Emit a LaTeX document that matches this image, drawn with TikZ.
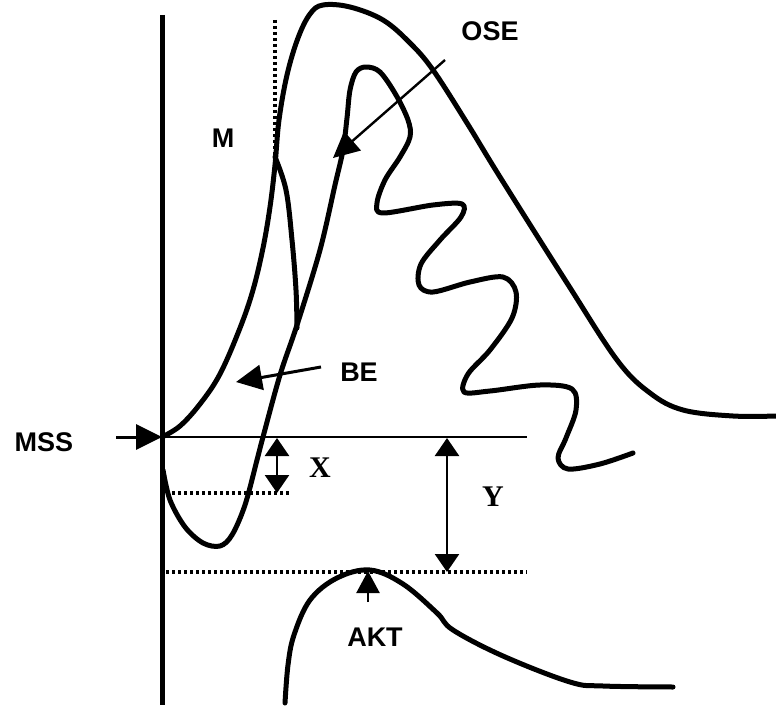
\documentclass[tikz,border=0pt]{standalone}
\usepackage{fontspec}
\setmainfont{Liberation Serif}
\setsansfont{Liberation Sans}
\usetikzlibrary{arrows.meta,positioning}

\begin{document}
\begin{tikzpicture}[x=1pt,y=-1pt,
  heavy/.style={line width=5pt,line join=round,line cap=round},
  thin/.style={line width=2.4pt},
  dots/.style={line width=3.2pt,dash pattern=on 3pt off 3pt},
  bigtip/.style={-{Triangle[length=26pt,width=25pt]}},
  dimtip/.style={{Triangle[length=18pt,width=24pt]}-{Triangle[length=18pt,width=24pt]}},
  tag/.style={font=\sffamily\bfseries\fontsize{27}{30}\selectfont,inner sep=0pt},
  dimtag/.style={font=\rmfamily\bfseries\fontsize{30}{32}\selectfont,inner sep=0pt}]
\useasboundingbox (0,0) rectangle (776,711);
% axes and reference lines
\coordinate (top) at (162,15); \coordinate (bot) at (162,705); \coordinate (org) at (162,437);
\draw[heavy,line cap=butt] (top) -- (bot);
\coordinate (base) at (527,437); \draw[thin] (org) -- (base);
\coordinate (mtop) at (275,20); \coordinate (cusp) at (275,157); \draw[dots] (mtop) -- (cusp);
\draw[dots] (172,493) coordinate (xl) -- (290,493) coordinate (xr);
\draw[dots] (166,572) coordinate (yl) -- (527,572) coordinate (yr);
% curves
\draw[heavy] plot[smooth,tension=0.6] coordinates {(162,437) (180,426) (200,404) (220,374) (240,328) (253,290) (263,248) (270,207) (275,165) (279,120) (287,75) (298,38) (310,14) (323,5) (350,7) (383,20) (410,43) (433,70) (467,123) (500,177) (567,283) (617,360) (650,393) (683,410) (733,416) (776,416)};
\coordinate (join) at (297,328); \draw[heavy] plot[smooth,tension=0.6] coordinates {(cusp) (286,190) (292,240) (296,290) (join)};
\draw[heavy] plot[smooth,tension=0.55] coordinates {(163,470) (170,500) (185,527) (203,543) (220,546) (232,535) (245,505) (257,460) (263,437) (280,375) (297,325) (320,250) (335,185) (343,150) (347,118) (350,90) (356,72) (366,67) (380,72) (396,95) (408,120) (410,137) (400,157) (385,180) (377,203) (383,213) (433,205) (462,204) (461,217) (440,240) (421,264) (419,285) (433,292) (470,282) (503,277) (516,292) (512,318) (490,350) (468,374) (464,392) (490,391) (540,385) (572,389) (576,410) (566,438) (558,458) (568,469) (600,464) (633,453)};
\draw[heavy] plot[smooth,tension=0.6] coordinates {(285,703) (288,665) (294,635) (310,600) (337,578) (370,570) (403,584) (437,613) (453,630) (503,656) (570,682) (603,686) (673,687)};
% labels and arrows
\node[tag] (mss) at (44,442) {MSS}; \coordinate (msstail) at (116,437); \draw[thin,line width=3pt,bigtip] (msstail) -- (org);
\node[tag] (m) at (223,138) {M};
\node[tag] (ose) at (490,31) {OSE}; \coordinate (osetail) at (445,60); \coordinate (osehead) at (333,158); \draw[thin,bigtip] (osetail) -- (osehead);
\node[tag] (be) at (359,372) {BE}; \coordinate (betail) at (321,367); \coordinate (behead) at (236,382); \draw[thin,line width=3pt,bigtip] (betail) -- (behead);
\node[tag] (akt) at (375,637) {AKT}; \coordinate (akttail) at (368,602); \coordinate (akthead) at (368,571); \draw[thin,-{Triangle[length=22pt,width=23pt]}] (akttail) -- (akthead);
\coordinate (xtop) at (277,438); \coordinate (xbot) at (277,493); \draw[thin,dimtip] (xtop) -- (xbot);
\node[dimtag] (xlab) at (320,468) {X};
\coordinate (ytop) at (447,438); \coordinate (ybot) at (447,572); \draw[thin,dimtip] (ytop) -- (ybot);
\node[dimtag] (ylab) at (493,497) {Y};
\end{tikzpicture}
\end{document}
